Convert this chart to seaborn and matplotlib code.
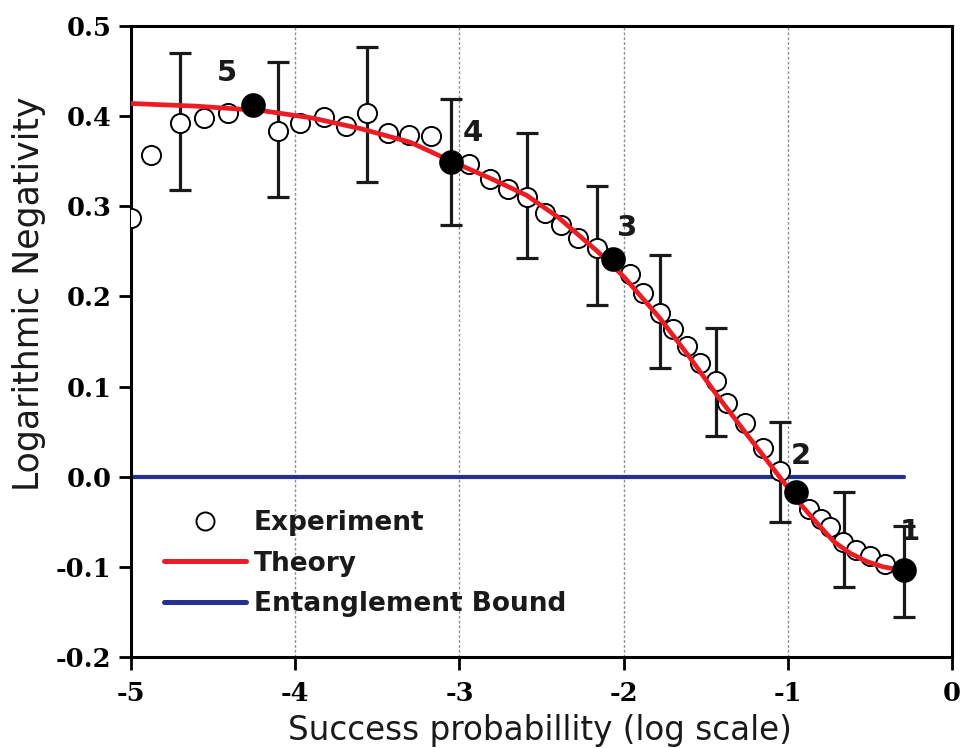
import matplotlib
matplotlib.use("Agg")
import matplotlib.pyplot as plt
import pandas as pd
import seaborn as sns
from matplotlib.lines import Line2D

# Measured logarithmic negativity vs. log10 success probability
exp_log_p = [-5.00, -4.878, -4.70, -4.556, -4.41, -4.106, -3.97, -3.826, -3.69,
             -3.56, -3.437, -3.31, -3.175, -2.944, -2.816, -2.707, -2.59, -2.48,
             -2.38, -2.275, -2.16, -1.959, -1.88, -1.776, -1.697, -1.612, -1.533,
             -1.44, -1.37, -1.26, -1.15, -1.046, -0.87, -0.80, -0.742, -0.663,
             -0.584, -0.499, -0.408]
exp_ln = [0.287, 0.357, 0.392, 0.398, 0.403, 0.383, 0.392, 0.399, 0.389,
          0.403, 0.381, 0.379, 0.378, 0.347, 0.330, 0.319, 0.310, 0.293,
          0.279, 0.265, 0.254, 0.225, 0.204, 0.182, 0.164, 0.145, 0.126,
          0.106, 0.082, 0.060, 0.032, 0.006, -0.036, -0.047, -0.056, -0.072,
          -0.081, -0.088, -0.097]

# Representative error bars
err_log_p = [-4.70, -4.106, -3.56, -3.053, -2.59, -2.165, -1.78, -1.44, -1.046, -0.66, -0.292]
err_ln = [0.394, 0.385, 0.402, 0.349, 0.312, 0.256, 0.183, 0.105, 0.005, -0.070, -0.105]
err_half = [0.076, 0.075, 0.075, 0.070, 0.069, 0.066, 0.0625, 0.0595, 0.0555, 0.0525, 0.0505]

# Numbered reference points
key_log_p = [-4.258, -3.053, -2.062, -0.952, -0.292]
key_ln = [0.412, 0.349, 0.242, -0.017, -0.104]
key_labels = ["5", "4", "3", "2", "1"]

# Theoretical prediction
theory_log_p = [-5.0, -4.6, -4.2, -3.9, -3.6, -3.3, -3.05, -2.8, -2.59, -2.4,
                -2.16, -2.0, -1.78, -1.6, -1.43, -1.25, -1.03, -0.925, -0.82,
                -0.72, -0.62, -0.52, -0.42, -0.30]
theory_ln = [0.414, 0.411, 0.406, 0.398, 0.386, 0.371, 0.350, 0.330, 0.312, 0.288,
             0.250, 0.222, 0.176, 0.133, 0.090, 0.047, -0.005, -0.030, -0.052,
             -0.072, -0.085, -0.094, -0.100, -0.104]

# Entanglement bound
bound_log_p = [-5.0, -0.29]
bound_ln = [0.0, 0.0]

x_ticks = [-5, -4, -3, -2, -1, 0]
y_ticks = [-0.2, -0.1, 0.0, 0.1, 0.2, 0.3, 0.4, 0.5]

RED = "#ec1c24"
BLUE = "#25308f"
INK = "#1a1a1a"

sns.set_style("ticks")
plt.rcParams["axes.unicode_minus"] = False
plt.rcParams["font.family"] = ["Liberation Sans", "DejaVu Sans"]

fig = plt.figure(figsize=(9.6, 7.48), dpi=100)
ax = fig.add_axes([0.1365, 0.1217, 0.8552, 0.8436])

for gx in [-4, -3, -2, -1]:
    ax.axvline(gx, color="#8f8f8f", lw=1.0, ls=(0, (2, 1.5)), zorder=0)

exp_df = pd.DataFrame({"logp": exp_log_p, "ln": exp_ln})
theory_df = pd.DataFrame({"logp": theory_log_p, "ln": theory_ln})
bound_df = pd.DataFrame({"logp": bound_log_p, "ln": bound_ln})
key_df = pd.DataFrame({"logp": key_log_p, "ln": key_ln})

sns.lineplot(data=bound_df, x="logp", y="ln", color=BLUE, lw=3.0, ax=ax,
             zorder=2, solid_capstyle="round")
ax.errorbar(err_log_p, err_ln, yerr=err_half, fmt="none", ecolor=INK,
            elinewidth=2.3, capsize=8, capthick=2.3, zorder=3)
sns.scatterplot(data=exp_df, x="logp", y="ln", s=190, facecolor="white",
                edgecolor="black", linewidth=1.4, ax=ax, zorder=4)
sns.lineplot(data=theory_df, x="logp", y="ln", color=RED, lw=3.4, ax=ax,
             sort=False, zorder=5)
sns.scatterplot(data=key_df, x="logp", y="ln", s=270, color="black",
                edgecolor="black", ax=ax, zorder=6)

label_offsets = [(-19, 23), (16, 21), (10, 22), (4, 26), (4, 28)]
for lx, ly, lab, off in zip(key_log_p, key_ln, key_labels, label_offsets):
    ax.annotate(lab, (lx, ly), xytext=off, textcoords="offset points",
                ha="center", va="center", fontsize=21, fontweight="bold",
                family=["DejaVu Sans"], color=INK, zorder=7)

ax.set_xlim(-5, 0)
ax.set_ylim(-0.2, 0.5)
ax.set_xticks(x_ticks)
ax.set_xticklabels([str(t) for t in x_ticks])
ax.set_yticks(y_ticks)
ax.set_yticklabels([f"{t:.1f}" for t in y_ticks])
for lab in ax.get_xticklabels() + ax.get_yticklabels():
    lab.set_family(["DejaVu Serif"])
    lab.set_fontweight("bold")
    lab.set_fontsize(18.5)
    lab.set_color(INK)
ax.tick_params(direction="out", length=9, width=2, pad=5, colors="black")
ax.tick_params(axis="x", pad=8)

for sp in ax.spines.values():
    sp.set_visible(True)
    sp.set_linewidth(2.2)
    sp.set_color("black")

ax.set_xlabel("Success probabillity (log scale)", fontsize=23.5, family=["DejaVu Sans"], color=INK)
ax.set_ylabel("Logarithmic Negativity", fontsize=25, family=["DejaVu Sans"], color=INK)
ax.xaxis.set_label_coords(0.498, -0.090)
ax.yaxis.set_label_coords(-0.103, 0.575)

handles = [
    Line2D([], [], ls="none", marker="o", markersize=13, markerfacecolor="white",
           markeredgecolor="black", markeredgewidth=1.4),
    Line2D([], [], color=RED, lw=3.6, solid_capstyle="round"),
    Line2D([], [], color=BLUE, lw=3.6, solid_capstyle="round"),
]
leg = ax.legend(handles, ["Experiment", "Theory", "Entanglement Bound"],
                loc="upper left", bbox_to_anchor=(0.04, 0.233), frameon=False,
                borderpad=0, borderaxespad=0, handlelength=3.1, handletextpad=0.3,
                labelspacing=0.56,
                prop={"family": "DejaVu Sans", "weight": "bold", "size": 19})
for t in leg.get_texts():
    t.set_color(INK)

fig.savefig("out.png", dpi=100)
